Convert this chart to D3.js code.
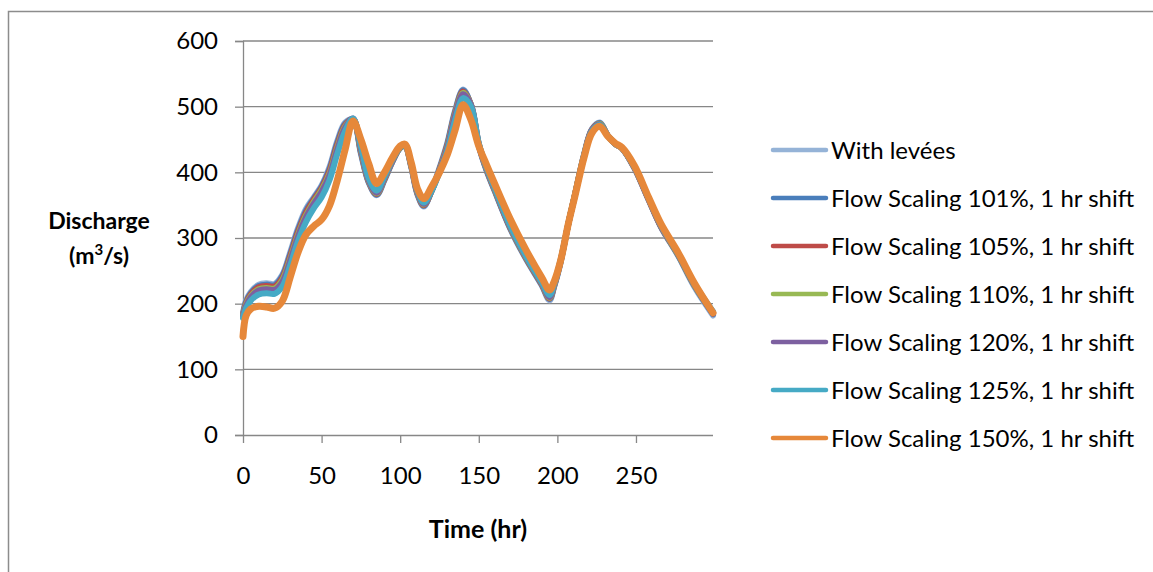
<!DOCTYPE html>
<html><head><meta charset="utf-8">
<script src="https://cdn.jsdelivr.net/npm/d3@7"></script>
<style>body{margin:0;background:#fff}svg{display:block}</style>
</head><body>
<svg id="c" width="1153" height="572"></svg>
<script>
const times = [0,2,5,10,15,20,25,30,35,40,45,50,55,60,65,70,75,80,85,90,95,100,103,107,111,115,120,125,130,135,140,145,150,155,160,170,180,190,195,198,202,207,211,217,222,227,232,237,241,249,258,266,277,287,299];

const withLevees = [186,205,218,229,231,230,244,278,315,344,362,380,408,448,476,480,428,384,365,388,416,437,440,408,366,348,373,407,445,495,526,502,440,402,372,314,268,228,205,226,262,322,364,428,466,476,456,443,437,406,358,316,272,226,182];
const scale101 = [184,203,216,227,229,228,242,275,312,341,360,378,405,445,474,480,430,385,366,389,416,437,440,409,367,349,372,405,443,493,525,503,441,403,373,315,269,229,207,227,263,322,364,427,465,475,456,443,437,407,359,317,273,228,184];
const scale105 = [183,201,214,225,227,226,239,272,309,338,358,376,402,442,472,481,432,386,367,390,417,438,441,410,368,350,372,404,441,491,523,503,442,404,374,316,270,230,208,228,264,322,364,426,465,474,456,443,437,407,359,317,274,229,185];
const scale110 = [182,199,212,222,224,223,236,268,305,334,355,373,398,438,470,481,434,387,368,391,418,438,441,411,369,351,372,403,439,489,521,503,443,405,375,317,271,231,209,229,264,322,364,426,464,474,456,443,437,408,360,318,274,229,186];
const scale120 = [181,197,210,220,222,221,233,265,302,331,352,370,395,435,468,482,436,388,369,392,418,439,442,412,370,352,372,402,437,487,519,503,444,406,376,318,272,232,210,230,265,322,363,425,464,473,456,443,437,408,360,318,275,230,187];
const scale125 = [178,193,205,214,216,215,226,258,295,324,345,362,388,428,463,482,440,391,372,394,419,439,442,413,372,354,372,400,433,480,513,500,444,407,377,319,273,233,213,231,266,322,363,424,463,472,456,443,437,408,361,319,276,231,188];
const scale150 = [150,182,192,196,195,193,204,240,278,305,318,328,349,388,435,478,450,413,383,400,422,440,443,415,375,360,378,400,427,465,503,480,440,411,383,329,282,240,221,234,265,322,362,423,460,470,455,444,438,410,362,321,277,232,186];

const seriesNames = ["With levées","Flow Scaling 101%, 1 hr shift","Flow Scaling 105%, 1 hr shift","Flow Scaling 110%, 1 hr shift","Flow Scaling 120%, 1 hr shift","Flow Scaling 125%, 1 hr shift","Flow Scaling 150%, 1 hr shift"];
const seriesValues = [withLevees, scale101, scale105, scale110, scale120, scale125, scale150];
const seriesColors = ["#95B3D7","#4A7EBB","#BE4B48","#98B954","#7D60A0","#46AAC5","#E6883A"];
const xTicks = [0,50,100,150,200,250];
const yTicks = [0,100,200,300,400,500,600];

const svg = d3.select("#c");
const FONT = "Lato, 'Open Sans', sans-serif";
const x = d3.scaleLinear().domain([0,299]).range([243,713]);
const y = d3.scaleLinear().domain([0,600]).range([435,41]);
const grid = "#878787";

// outer border
svg.append("path").attr("d","M8.5,572V11.5H1153").attr("fill","none").attr("stroke","#8c8c8c").attr("stroke-width",1.5);

// gridlines
svg.append("g").selectAll("line").data(yTicks.filter(d=>d>0)).join("line")
  .attr("x1",x(0)).attr("x2",713).attr("y1",d=>y(d)).attr("y2",d=>y(d))
  .attr("stroke",grid).attr("stroke-width",1.3);

// y axis
const ya = svg.append("g").attr("transform",`translate(${x(0)},0)`)
  .call(d3.axisLeft(y).tickValues(yTicks).tickSize(8).tickPadding(17));
ya.select(".domain").attr("stroke",grid).attr("stroke-width",1.3);
ya.selectAll(".tick line").attr("stroke",grid).attr("stroke-width",1.3);
ya.selectAll("text").attr("font-family",FONT).attr("font-size",24).attr("fill","#000");

// x axis
const xa = svg.append("g").attr("transform",`translate(0,${y(0)})`)
  .call(d3.axisBottom(x).tickValues(xTicks).tickSize(8).tickPadding(24).tickSizeOuter(0));
xa.select(".domain").attr("stroke",grid).attr("stroke-width",1.3).attr("d",`M${x(0)},0.5H713`);
xa.selectAll(".tick line").attr("stroke",grid).attr("stroke-width",1.3);
xa.selectAll("text").attr("font-family",FONT).attr("font-size",24).attr("fill","#000");

// lines
const line = d3.line().x((d,i)=>x(times[i])).y(d=>y(d)).curve(d3.curveCatmullRom.alpha(0.5));
svg.append("g").selectAll("path").data(seriesValues).join("path")
  .attr("d",d=>line(d)).attr("fill","none")
  .attr("stroke",(d,i)=>seriesColors[i])
  .attr("stroke-width",(d,i)=>i===6?7:6)
  .attr("stroke-linejoin","round").attr("stroke-linecap","round");

// axis titles
const yt = svg.append("text").attr("font-family",FONT).attr("font-weight","bold").attr("font-size",23).attr("text-anchor","middle");
yt.append("tspan").attr("x",99).attr("y",229).text("Discharge");
const t2 = yt.append("tspan").attr("x",99).attr("y",264);
t2.append("tspan").text("(m");
t2.append("tspan").attr("font-size",15).attr("dy",-9).text("3");
t2.append("tspan").attr("dy",9).text("/s)");
svg.append("text").attr("x",478).attr("y",538).attr("font-family",FONT).attr("font-weight","bold").attr("font-size",25).attr("text-anchor","middle").text("Time (hr)");

// legend
const lg = svg.append("g").selectAll("g").data(seriesNames).join("g")
  .attr("transform",(d,i)=>`translate(0,${150+i*48})`);
lg.append("line").attr("x1",773).attr("x2",826).attr("y1",0).attr("y2",0)
  .attr("stroke",(d,i)=>seriesColors[i]).attr("stroke-width",4.5).attr("stroke-linecap","round");
lg.append("text").attr("x",831).attr("y",9).attr("font-family",FONT).attr("font-size",24).text(d=>d);
</script>
</body></html>
